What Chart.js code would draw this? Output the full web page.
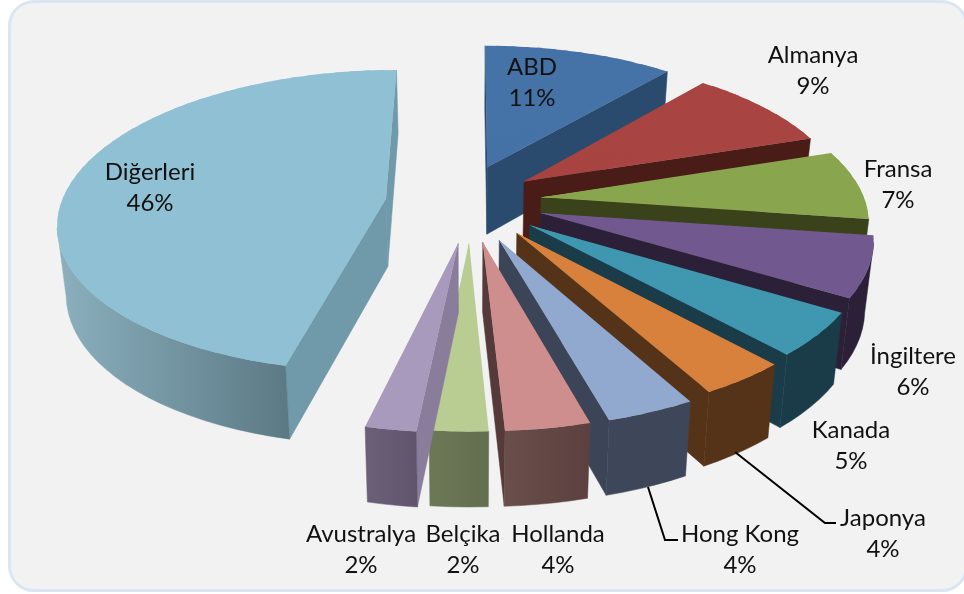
<!DOCTYPE html>
<html lang="tr">
<head>
<meta charset="utf-8">
<title>Pasta grafik</title>
<script src="https://cdn.jsdelivr.net/npm/chart.js@4"></script>
<style>
  html, body { margin: 0; padding: 0; background: #fff; }
  #wrap { position: relative; width: 964px; height: 594px; overflow: hidden; }
  #frame {
    position: absolute; left: 8px; top: 0; width: 960px; height: 592px;
    box-sizing: border-box; background: #f2f2f2;
    border: 3px solid #dce6f2; border-radius: 26px;
  }
  canvas { position: absolute; left: 0; top: 0; }
</style>
</head>
<body>
<div id="wrap">
  <div id="frame"></div>
  <canvas id="pie" width="964" height="594"></canvas>
</div>
<script>
const countries = ['ABD', 'Almanya', 'Fransa', 'İngiltere', 'Kanada', 'Japonya', 'Hong Kong', 'Hollanda', 'Belçika', 'Avustralya', 'Diğerleri'];
const shares = [11.1, 8.8, 7.4, 6.4, 4.6, 3.7, 3.7, 3.5, 2.4, 2.1, 46.3];

// how far each slice is dragged out of the pie, in radii
const pullU = [0.055, 0.17, 0.22, 0.215, 0.18, 0.14, 0.087, 0.038, -0.003, -0.035, -0.26];
const pullV = [-0.255, -0.155, -0.045, 0.06, 0.14, 0.19, 0.235, 0.248, 0.25, 0.255, -0.035];

const topColors = ['#4572a7', '#a84441', '#89a54e', '#71588f', '#3f97b0', '#d8813c', '#91a8cf', '#cf8e8e', '#b9cd92', '#a79abd', '#90c0d3'];
const sideColors = ['#2a4a6e', '#4a1c18', '#3a421c', '#2c2038', '#1a3c48', '#553318', '#3c4558', '#563a3a', '#626e4f', '#8a7d9c', '#7099aa'];
const wallLeft = ['#2a4a6e', '#4a1c18', '#3a421c', '#2c2038', '#1a3c48', '#553318', '#3e4759', '#6a4e4b', '#6c7855', '#6c6078', '#8cb0be'];
const wallRight = ['#2a4a6e', '#4a1c18', '#3a421c', '#2c2038', '#1a3c48', '#553318', '#3e4759', '#5c403f', '#626e4f', '#60556c', '#5c7a86'];

// text centres of the first label line
const labelX = [532, 813, 898, 913, 851, 883, 740, 558, 463, 361, 150];
const labelY = [67, 55, 169, 356, 430, 518, 534, 534, 534, 534, 172];

const leaders = [
  [[735, 452], [825, 523], [836, 523]],
  [[648, 487], [665, 540], [678, 540]],
];

const view = { cx: 470, cy: 204, rx: 325, ry: 149, persp: 0.145, depth: 68, taper: 0.978 };
const STEP = Math.PI / 60;

function project(u, v) {
  const w = 1 / (1 - view.persp * v);
  return { x: view.cx + view.rx * u * w, y: view.cy + view.ry * v * w, w };
}

// affine map sending the unit points (0,0), p and q to the screen points s0, s1, s2
function wedgeMatrix(p, q, s0, s1, s2) {
  const det = p[0] * q[1] - q[0] * p[1];
  const dx1 = s1.x - s0.x;
  const dy1 = s1.y - s0.y;
  const dx2 = s2.x - s0.x;
  const dy2 = s2.y - s0.y;
  return {
    a: (dx1 * q[1] - dx2 * p[1]) / det,
    b: (dy1 * q[1] - dy2 * p[1]) / det,
    c: (dx2 * p[0] - dx1 * q[0]) / det,
    d: (dy2 * p[0] - dy1 * q[0]) / det,
    e: s0.x,
    f: s0.y,
  };
}

function sliceGeometry(arc, index) {
  const ox = pullU[index];
  const oy = pullV[index];
  const tip = project(ox, oy);
  const sweep = arc.endAngle - arc.startAngle;
  const steps = Math.max(2, Math.ceil(sweep / STEP));
  const angles = [];
  for (let i = 0; i <= steps; i += 1) angles.push(arc.startAngle + sweep * (i / steps));
  const rim = angles.map((a) => project(ox + Math.cos(a), oy + Math.sin(a)));
  return { tip, rim, angles };
}

function below(p) {
  return {
    x: view.cx + (p.x - view.cx) * view.taper,
    y: p.y + view.depth * (0.5 + 0.5 * p.w),
  };
}

function fillWall(ctx, chain, fill) {
  ctx.beginPath();
  chain.forEach((p, i) => { if (i) ctx.lineTo(p.x, p.y); else ctx.moveTo(p.x, p.y); });
  chain.slice().reverse().forEach((p) => { const b = below(p); ctx.lineTo(b.x, b.y); });
  ctx.closePath();
  ctx.fillStyle = fill;
  ctx.fill();
  ctx.strokeStyle = fill;
  ctx.lineWidth = 0.5;
  ctx.stroke();
}

function drawWalls(ctx, tip, rim, index) {
  const first = rim[0];
  const last = rim[rim.length - 1];
  if (tip.x < last.x) fillWall(ctx, [last, tip], sideColors[index]);
  if (first.x < tip.x) fillWall(ctx, [tip, first], sideColors[index]);

  // only the part of the rim that runs leftwards on screen faces the viewer
  const chain = [];
  for (let i = 1; i < rim.length; i += 1) {
    if (rim[i].x < rim[i - 1].x) {
      if (!chain.length) chain.push(rim[i - 1]);
      chain.push(rim[i]);
    }
  }
  if (chain.length) {
    const grad = ctx.createLinearGradient(chain[chain.length - 1].x, 0, chain[0].x, 0);
    grad.addColorStop(0, wallLeft[index]);
    grad.addColorStop(1, wallRight[index]);
    fillWall(ctx, chain, grad);
  }
}

// the arc element is flat, so it is drawn once per thin wedge, each with its own map
function drawTop(ctx, arc, { tip, rim, angles }) {
  for (let i = 1; i < angles.length; i += 1) {
    const a0 = angles[i - 1];
    const a1 = angles[i];
    const mid = (a0 + a1) / 2;
    const t = wedgeMatrix([Math.cos(a0), Math.sin(a0)], [Math.cos(a1), Math.sin(a1)], tip, rim[i - 1], rim[i]);
    const r = arc.outerRadius;
    ctx.save();
    ctx.transform(t.a, t.b, t.c, t.d, t.e, t.f);
    ctx.scale(1 / r, 1 / r);
    ctx.translate(-arc.x, -arc.y);
    // apex set back a little so that neighbouring wedges overlap right up to the tip
    ctx.beginPath();
    ctx.moveTo(arc.x - 0.05 * r * Math.cos(mid), arc.y - 0.05 * r * Math.sin(mid));
    ctx.lineTo(arc.x + 1.3 * r * Math.cos(a0 - 0.01), arc.y + 1.3 * r * Math.sin(a0 - 0.01));
    ctx.lineTo(arc.x + 1.3 * r * Math.cos(a1 + 0.01), arc.y + 1.3 * r * Math.sin(a1 + 0.01));
    ctx.closePath();
    ctx.clip();
    arc.draw(ctx);
    ctx.restore();
  }
}

const pie3d = {
  id: 'pie3d',
  beforeDatasetsDraw(chart) {
    const { ctx } = chart;
    const arcs = chart.getDatasetMeta(0).data;
    const slices = arcs.map((arc, index) => ({ arc, index, geo: sliceGeometry(arc, index) }));
    slices.sort((a, b) => a.geo.tip.y - b.geo.tip.y);
    slices.forEach(({ arc, index, geo }) => {
      drawWalls(ctx, geo.tip, geo.rim, index);
      drawTop(ctx, arc, geo);
    });
    return false;
  },
  afterDraw(chart) {
    const { ctx } = chart;
    ctx.save();
    ctx.strokeStyle = '#000';
    ctx.lineWidth = 2;
    leaders.forEach((line) => {
      ctx.beginPath();
      line.forEach(([x, y], i) => { if (i) ctx.lineTo(x, y); else ctx.moveTo(x, y); });
      ctx.stroke();
    });
    ctx.fillStyle = '#111';
    ctx.font = '24px Lato';
    ctx.textAlign = 'center';
    ctx.textBaseline = 'middle';
    countries.forEach((name, i) => {
      ctx.fillText(name, labelX[i], labelY[i]);
      ctx.fillText(`${Math.round(shares[i])}%`, labelX[i], labelY[i] + 31);
    });
    ctx.restore();
  },
};

// eslint-disable-next-line no-new
new Chart(document.getElementById('pie'), {
  type: 'pie',
  data: {
    labels: countries,
    datasets: [{
      data: shares,
      backgroundColor: topColors,
      borderWidth: 0,
    }],
  },
  plugins: [pie3d],
  options: {
    responsive: false,
    animation: false,
    events: [],
    plugins: {
      legend: { display: false },
      tooltip: { enabled: false },
    },
  },
});
</script>
</body>
</html>
